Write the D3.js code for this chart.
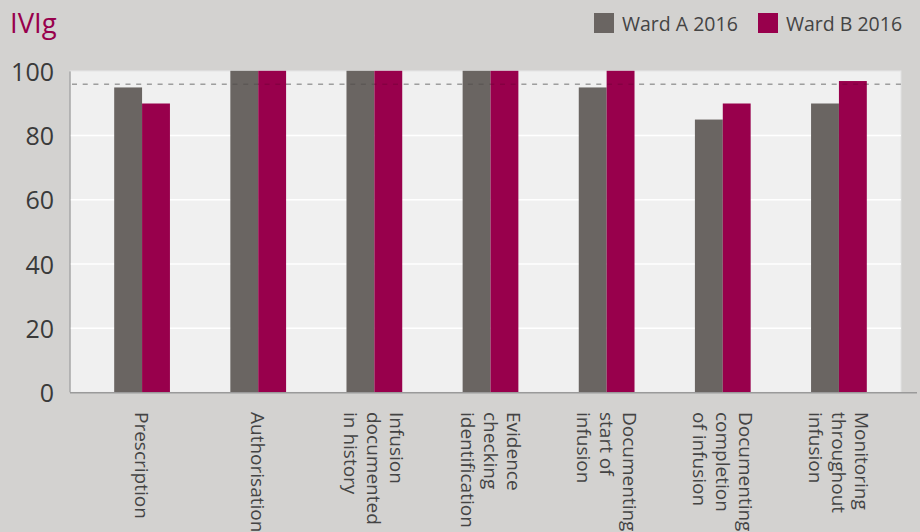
<!DOCTYPE html>
<html><head><meta charset="utf-8">
<script src="https://cdn.jsdelivr.net/npm/d3@7/dist/d3.min.js"></script>
<style>
html,body{margin:0;padding:0;background:#d3d2d0;}
svg{display:block;font-family:"Open Sans",sans-serif;}
</style></head>
<body>
<svg id="chart" width="920" height="532"></svg>
<script>
const categories = [
  ["Prescription"],
  ["Authorisation"],
  ["Infusion","documented","in history"],
  ["Evidence","checking","identification"],
  ["Documenting","start of","infusion"],
  ["Documenting","completion","of infusion"],
  ["Monitoring","throughout","infusion"]
];
const seriesNames = ["Ward A 2016","Ward B 2016"];
const wardA = [95, 100, 100, 100, 95, 85, 90];
const wardB = [90, 100, 100, 100, 100, 90, 97];
const yTicks = [0, 20, 40, 60, 80, 100];
const targetValue = 96;
const title = "IVIg";

const colors = {"Ward A 2016":"#6a6562","Ward B 2016":"#98004c"};
const svg = d3.select("#chart");
const catKeys = categories.map(c => c.join(" "));

const plot = {left:70, right:901, top:71.4, bottom:392.4};
const y = d3.scaleLinear().domain([0,100]).range([plot.bottom, plot.top]);
const x0 = d3.scaleBand().domain(catKeys).range([84, 897]).paddingInner(0.52).paddingOuter(0.26);
const x1 = d3.scaleBand().domain(seriesNames).range([0, x0.bandwidth()]);

// plot background
svg.append("rect").attr("x",plot.left).attr("y",plot.top-0.5).attr("width",plot.right-plot.left)
  .attr("height",plot.bottom-plot.top+0.5).attr("fill","#f0f0f0").attr("stroke","#e2e2e2").attr("stroke-width",1);

// gridlines
svg.append("g").selectAll("line").data(yTicks.filter(t => t>0 && t<100)).join("line")
  .attr("x1",plot.left).attr("x2",plot.right).attr("y1",d=>y(d)).attr("y2",d=>y(d))
  .attr("stroke","#ffffff").attr("stroke-width",1.5);

// target dashed line
svg.append("line").attr("x1",plot.left+2).attr("x2",plot.right).attr("y1",y(targetValue)).attr("y2",y(targetValue))
  .attr("stroke","#b4b4b4").attr("stroke-width",1.3).attr("stroke-dasharray","5,5.7");

// bars
const data = catKeys.map((k,i)=>({cat:k, vals:[{s:seriesNames[0],v:wardA[i]},{s:seriesNames[1],v:wardB[i]}]}));
const g = svg.append("g").selectAll("g").data(data).join("g")
  .attr("transform",d=>`translate(${x0(d.cat)},0)`);
g.selectAll("rect").data(d=>d.vals).join("rect")
  .attr("x",d=>x1(d.s)).attr("width",x1.bandwidth())
  .attr("y",d=>y(d.v)-(d.v>=100?0.6:0)).attr("height",d=>y(0)-y(d.v)+(d.v>=100?0.6:0))
  .attr("fill",d=>colors[d.s]);

// faint dashes over bars
svg.append("line").attr("x1",plot.left+2).attr("x2",plot.right).attr("y1",y(targetValue)).attr("y2",y(targetValue))
  .attr("stroke","#000").attr("stroke-opacity",0.12).attr("stroke-width",1.3).attr("stroke-dasharray","5,5.7");

// axes lines
svg.append("line").attr("x1",plot.left).attr("x2",plot.left).attr("y1",plot.top).attr("y2",plot.bottom)
  .attr("stroke","#8a8a8a").attr("stroke-width",1);
svg.append("line").attr("x1",plot.left).attr("x2",917).attr("y1",plot.bottom+0.3).attr("y2",plot.bottom+0.3)
  .attr("stroke","#9a9a9a").attr("stroke-width",1.5);

// y axis labels
const yAxis = d3.axisLeft(y).tickValues(yTicks).tickSize(0).tickPadding(0);
const ya = svg.append("g").attr("transform",`translate(54,1)`).call(yAxis);
ya.select(".domain").remove();
ya.selectAll("text").attr("font-size",25).attr("fill","#3a3a3a").attr("font-family","Open Sans");

// x labels
const xl = svg.append("g");
const lh = 23;
data.forEach((d,i)=>{
  const lines = categories[i];
  const n = lines.length;
  const cx = x0(d.cat) + x0.bandwidth()/2;
  const t = xl.append("text").attr("transform",`translate(${cx},412) rotate(90)`)
    .attr("font-size",19).attr("fill","#444").attr("text-anchor","start");
  lines.forEach((ln,j)=>{
    t.append("tspan").attr("x",0).attr("y",-((n-1)/2 - j)*lh).attr("dominant-baseline","central").text(ln);
  });
});

// title
svg.append("text").attr("x",10).attr("y",33).attr("font-size",27.5).attr("fill","#98004c").text(title);

// legend
const legX = [594, 758];
seriesNames.forEach((s,i)=>{
  svg.append("rect").attr("x",legX[i]).attr("y",13).attr("width",20).attr("height",20).attr("fill",colors[s]);
  svg.append("text").attr("x",legX[i]+28).attr("y",31).attr("font-size",19.5).attr("fill","#444").text(s);
});
</script>
</body></html>
